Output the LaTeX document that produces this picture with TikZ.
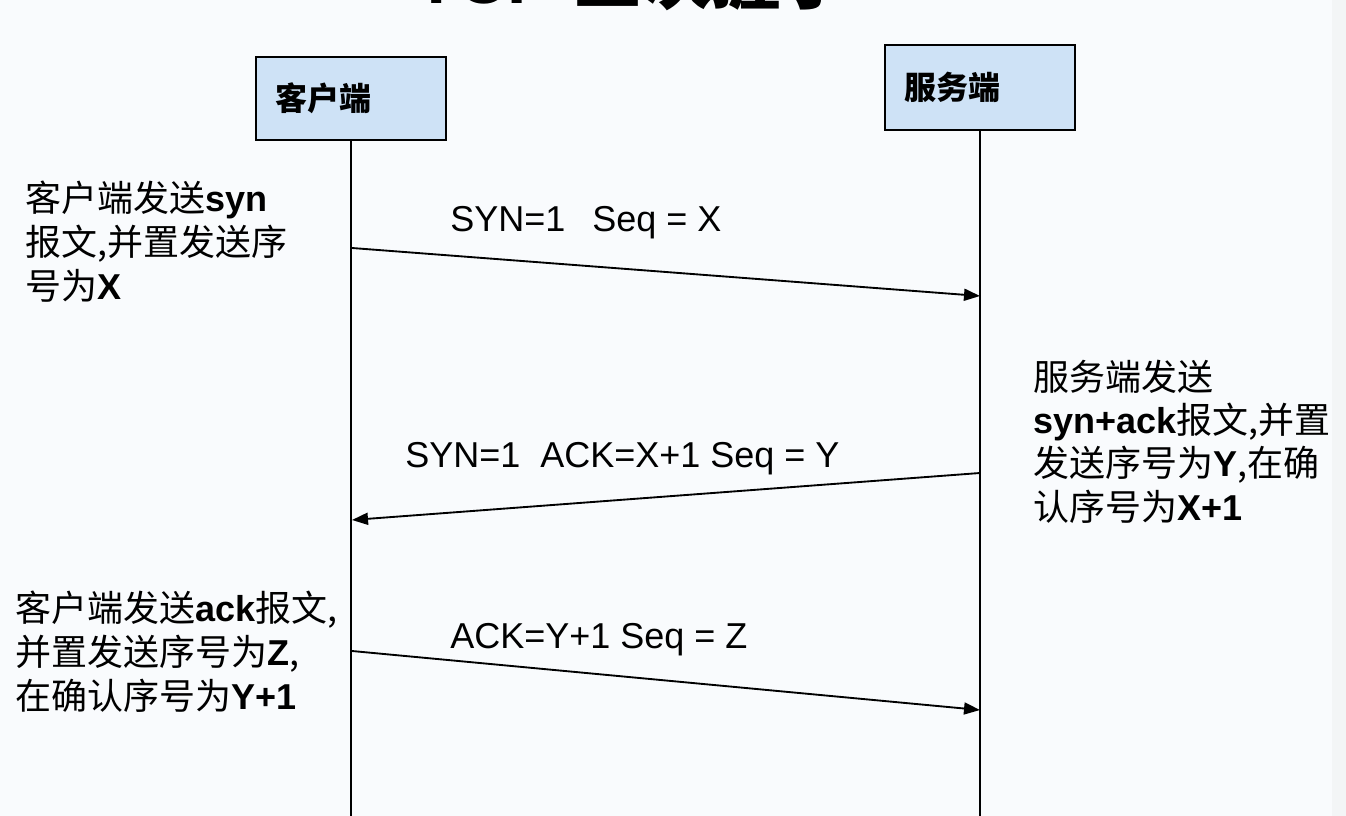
\documentclass[tikz,border=0pt]{standalone}
\usepackage{fontspec}
\setmainfont{Liberation Sans}
\newfontfamily\cjk{Noto Sans CJK SC}
\usetikzlibrary{arrows.meta}
\definecolor{pagebg}{RGB}{249,251,253}
\definecolor{stripbg}{RGB}{243,245,246}
\definecolor{hostfill}{RGB}{206,226,246}
\newcommand{\lat}[1]{{\rmfamily\bfseries #1}}
\tikzset{
  host/.style={draw=black,line width=1.5pt,fill=hostfill,minimum width=142.5pt,
    minimum height=62pt,inner xsep=14pt,text width=114pt,align=left,
    font=\cjk\bfseries\fontsize{24}{28}\selectfont},
  lifeline/.style={line width=2pt},
  msg/.style={line width=1.4pt,-{Triangle[length=12pt,width=9pt]}},
  msglabel/.style={anchor=base west,inner sep=0pt,font=\fontsize{27}{32}\selectfont},
  note/.style={anchor=base west,inner sep=0pt,align=left,font=\cjk\fontsize{27}{33}\selectfont}
}
\begin{document}
\begin{tikzpicture}[x=0.75pt,y=-0.75pt]
\useasboundingbox (0,0) rectangle (1346,816);
\clip (0,0) rectangle (1346,816);
\fill[pagebg] (0,0) rectangle (1346,816);
\fill[stripbg] (1332,0) rectangle (1346,816);
\node[anchor=base west,inner sep=0pt,font=\bfseries\fontsize{52}{60}\selectfont] (title) at (415,4) {TCP {\cjk 三次握手}};
\node[host] (client) at (351,98.5) {客户端};
\node[host,minimum height=64pt] (server) at (980,87.5) {服务端};
\coordinate (bottom) at (0,816);
\draw[lifeline] (client.south) -- (client.south |- bottom);
\draw[lifeline] (server.south) -- (server.south |- bottom);
\coordinate (c1) at (352,248);
\coordinate (s1) at (980,296);
\coordinate (s2) at (980,473);
\coordinate (c2) at (352,520);
\coordinate (c3) at (352,651);
\coordinate (s3) at (980,710);
\draw[msg] (c1) -- (s1);
\draw[msg] (s2) -- (c2);
\draw[msg] (c3) -- (s3);
\node[msglabel] (syn) at (450,232) {SYN=1\hspace{0.75em}Seq = X};
\node[msglabel] (synack) at (405,468) {SYN=1\ \ ACK=X+1 Seq = Y};
\node[msglabel] (ack) at (450,648) {ACK=Y+1 Seq = Z};
\node[note] (clientsyn) at (25,300) {客户端发送\lat{syn}\\报文,并置发送序\\号为\lat{X}};
\node[note,font=\cjk\fontsize{27}{32.5}\selectfont] (serversynack) at (1033,520) {服务端发送\\\lat{syn+ack}报文,并置\\发送序号为\lat{Y},在确\\认序号为\lat{X+1}};
\node[note] (clientack) at (15,709) {客户端发送\lat{ack}报文,\\并置发送序号为\lat{Z},\\在确认序号为\lat{Y+1}};
\end{tikzpicture}
\end{document}
